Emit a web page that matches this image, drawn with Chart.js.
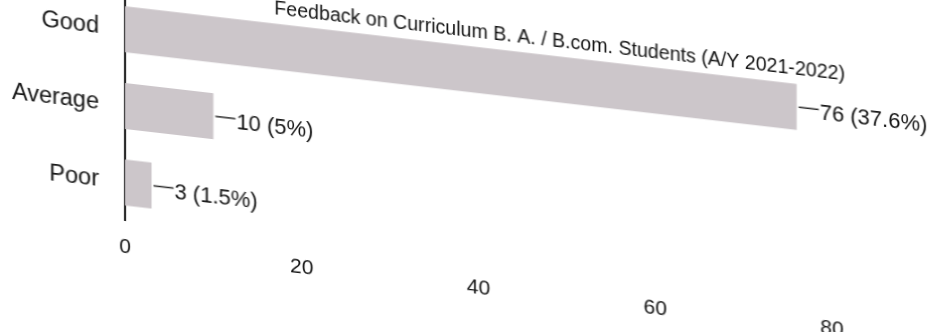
<!DOCTYPE html>
<html>
<head>
<meta charset="utf-8">
<script src="https://cdn.jsdelivr.net/npm/chart.js@4.4.1/dist/chart.umd.min.js"></script>
<style>
  html,body{margin:0;padding:0;background:#fff;overflow:hidden;}
  body{width:951px;height:332px;position:relative;}
  /* the scanned page is sheared, so the whole chart gets the same tilt */
  .sheet{position:absolute;left:0;top:-30px;width:951px;height:320px;transform:skewY(6.6deg);transform-origin:125px 0;}
</style>
</head>
<body>
<div class="sheet"><canvas id="chart"></canvas></div>
<script>
const categories = ['Good', 'Average', 'Poor'];
const counts = [76, 10, 3];
const shares = ['37.6%', '5%', '1.5%'];
const xMin = 0, xMax = 80, xStep = 20;
const chartTitle = 'Feedback on Curriculum B. A. / B.com. Students (A/Y 2021-2022)';

const FONT = '"Liberation Sans", Arial, sans-serif';
const INK = '#141414';

// "—76 (37.6%)" style tags at the end of each bar
const valueTags = {
  id: 'valueTags',
  afterDatasetsDraw(chart){
    const ctx = chart.ctx;
    const meta = chart.getDatasetMeta(0);
    ctx.save();
    ctx.strokeStyle = '#2a2a2a';
    ctx.lineWidth = 1.5;
    ctx.fillStyle = INK;
    ctx.font = '22px ' + FONT;
    ctx.textBaseline = 'middle';
    meta.data.forEach((bar, i) => {
      ctx.beginPath();
      ctx.moveTo(bar.x + 2, bar.y);
      ctx.lineTo(bar.x + 22, bar.y);
      ctx.stroke();
      ctx.fillText(counts[i] + ' (' + shares[i] + ')', bar.x + 23, bar.y + 4);
    });
    ctx.restore();
  }
};

// title sits right on top of the plot, overlapping the first band
const sheetTitle = {
  id: 'sheetTitle',
  afterDraw(chart){
    const {ctx, chartArea} = chart;
    ctx.save();
    ctx.font = '19.6px ' + FONT;
    ctx.fillStyle = INK;
    ctx.textAlign = 'right';
    ctx.textBaseline = 'middle';
    ctx.fillText(chartTitle, chartArea.right + 13, chartArea.top + 1);
    ctx.restore();
  }
};

new Chart(document.getElementById('chart'), {
  type: 'bar',
  data: {
    labels: categories,
    datasets: [{
      data: counts,
      backgroundColor: '#ccc6ca',
      borderWidth: 0,
      barPercentage: 0.6,
      categoryPercentage: 1
    }]
  },
  options: {
    indexAxis: 'y',
    responsive: true,
    maintainAspectRatio: false,
    animation: false,
    layout: { padding: { top: 21, left: 0, right: 119, bottom: 16 } },
    plugins: {
      legend: { display: false },
      tooltip: { enabled: false },
      title: { display: false }
    },
    scales: {
      x: {
        min: xMin,
        max: xMax,
        ticks: { stepSize: xStep, color: INK, font: { family: FONT, size: 21 }, padding: 14, maxRotation: 0 },
        grid: { display: false, drawTicks: false },
        border: { display: false }
      },
      y: {
        ticks: { color: INK, font: { family: FONT, size: 23.5 }, padding: 26 },
        grid: { display: false, drawTicks: false },
        border: { display: true, color: '#111', width: 2 },
        afterFit(scale){
          scale.width = 125;
          // labels sit in the middle of their bands, no extra room needed above/below
          scale.paddingTop = 0;
          scale.paddingBottom = 0;
        }
      }
    }
  },
  plugins: [valueTags, sheetTitle]
});
</script>
</body>
</html>
